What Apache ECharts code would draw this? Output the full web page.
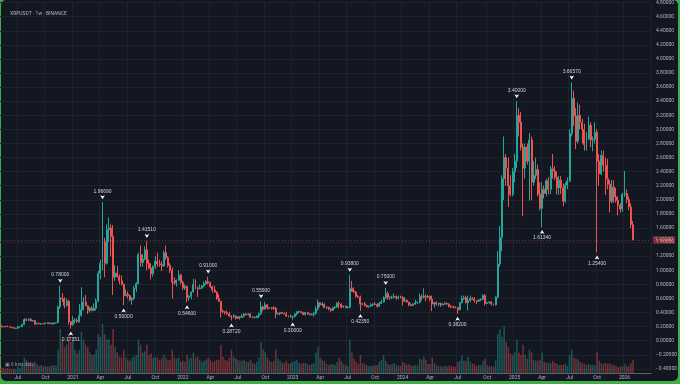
<!DOCTYPE html>
<html><head><meta charset="utf-8">
<script src="https://cdn.jsdelivr.net/npm/echarts@6/dist/echarts.min.js"></script>
<style>
html,body{margin:0;padding:0;width:680px;height:384px;overflow:hidden;background:#3fae49;}
#frame{position:absolute;left:1px;top:0;right:2px;bottom:3px;background:#131722;border-radius:5px;}
#chart{position:absolute;left:0;top:0;width:680px;height:384px;}
</style></head>
<body><div id="frame"></div><div id="chart"></div>
<script>
// ---- DATA: weekly candles [open, high, low, close] ----
const candles2020 = [
[.215,.216,.183,.197],[.197,.205,.193,.196],[.196,.206,.193,.203],[.203,.216,.197,.199],[.199,.205,.188,.192],
[.192,.195,.183,.183],[.183,.188,.172,.176],[.176,.180,.172,.178],[.178,.211,.173,.197],[.197,.208,.191,.198],
[.198,.240,.195,.232],[.232,.318,.223,.300],[.300,.318,.276,.291],[.291,.318,.280,.305],[.305,.318,.275,.281],
[.281,.295,.272,.285],[.285,.295,.226,.236],[.236,.250,.228,.247],[.247,.257,.239,.240],[.240,.249,.226,.242],
[.242,.247,.233,.241],[.241,.256,.238,.254],[.254,.258,.239,.243],[.243,.262,.238,.249],[.249,.256,.230,.238],
[.238,.259,.234,.252],[.252,.262,.246,.258],[.258,.500,.255,.480],[.480,.780,.450,.610],[.610,.677,.550,.600],
[.600,.620,.460,.500],[.500,.600,.485,.560],[.560,.580,.230,.270],[.270,.280,.17351,.225]
];
const candles2021 = [
[.225,.350,.215,.290],[.290,.320,.250,.290],[.290,.320,.250,.270],[.270,.520,.255,.360],[.360,.760,.340,.440],
[.440,.620,.430,.550],[.550,.650,.490,.495],[.495,.500,.380,.430],[.430,.480,.400,.460],[.460,.490,.420,.430],
[.430,.530,.420,.460],[.460,.600,.430,.565],[.565,.990,.550,.960],[.960,1.150,.870,1.100],[1.100,1.9669,1.000,1.400],
[1.400,1.460,.900,1.100],[1.100,1.650,1.080,1.580],[1.580,1.750,1.400,1.600],[1.600,1.650,1.200,1.480],[1.480,1.640,.650,.900],
[.900,1.070,.850,.960],[.960,1.060,.900,.910],[.910,.940,.800,.850],[.850,.930,.780,.800],[.800,.810,.500,.640],
[.640,.730,.630,.660],[.660,.700,.600,.640],[.640,.650,.560,.580],[.580,.620,.510,.600],[.600,.780,.580,.740],
[.740,.830,.690,.810],[.810,1.250,.800,1.220],[1.220,1.350,1.050,1.110],[1.110,1.230,1.050,1.160],[1.160,1.340,1.140,1.290],
[1.290,1.4151,1.000,1.100],[1.100,1.150,1.020,1.030],[1.030,1.100,.870,.950],[.950,1.070,.910,1.050],[1.050,1.200,1.020,1.130],
[1.130,1.250,1.050,1.090],[1.090,1.150,1.050,1.080],[1.080,1.130,.990,1.060],[1.060,1.280,1.050,1.250],[1.250,1.350,1.150,1.180],
[1.180,1.200,1.040,1.070],[1.070,1.100,.960,1.000],[1.000,1.040,.600,.830],[.830,.900,.790,.820],[.820,.870,.770,.860],
[.860,1.000,.850,.930],[.930,.950,.800,.830]
];
const candles2022 = [
[.830,.850,.720,.750],[.750,.800,.720,.770],[.770,.780,.546,.610],[.610,.650,.570,.630],[.630,.700,.590,.690],
[.690,.880,.690,.800],[.800,.870,.730,.750],[.750,.770,.620,.740],[.740,.800,.730,.750],[.750,.790,.730,.780],
[.780,.840,.760,.810],[.810,.860,.790,.840],[.840,.910,.800,.820],[.820,.840,.750,.770],[.770,.780,.680,.720],
[.720,.780,.680,.690],[.690,.700,.580,.600],[.600,.660,.550,.560],[.560,.560,.330,.420],[.420,.440,.390,.410],
[.410,.420,.370,.400],[.400,.430,.370,.380],[.380,.410,.340,.350],[.350,.360,.2872,.340],[.340,.380,.320,.350],
[.350,.360,.300,.320],[.320,.350,.310,.340],[.340,.350,.300,.330],[.330,.380,.330,.350],[.350,.390,.330,.380],
[.380,.390,.360,.370],[.370,.390,.360,.380],[.380,.390,.330,.330],[.330,.350,.320,.335],[.335,.340,.320,.330],
[.330,.360,.320,.350],[.350,.400,.320,.380],[.380,.559,.370,.480],[.480,.500,.420,.450],[.450,.550,.440,.510],
[.510,.520,.440,.470],[.470,.480,.450,.460],[.460,.480,.440,.465],[.465,.490,.440,.460],[.460,.480,.320,.380],
[.380,.400,.370,.385],[.385,.410,.360,.400],[.400,.410,.380,.390],[.390,.400,.380,.380],[.380,.410,.340,.350],
[.350,.360,.330,.350],[.350,.370,.330,.340]
];
const candles2023 = [
[.340,.350,.300,.345],[.345,.390,.330,.380],[.380,.420,.360,.410],[.410,.430,.390,.415],[.415,.420,.390,.400],
[.400,.410,.370,.370],[.370,.410,.360,.400],[.400,.410,.370,.380],[.380,.390,.360,.370],[.370,.390,.360,.375],
[.375,.410,.340,.390],[.390,.490,.370,.450],[.450,.580,.430,.540],[.540,.545,.480,.510],[.510,.550,.490,.520],
[.520,.530,.460,.470],[.470,.490,.450,.475],[.475,.480,.430,.450],[.450,.460,.410,.430],[.430,.480,.430,.470],
[.470,.490,.450,.480],[.480,.550,.470,.530],[.530,.560,.460,.520],[.520,.530,.460,.480],[.480,.500,.470,.490],
[.490,.500,.460,.470],[.470,.490,.460,.475],[.475,.938,.460,.740],[.740,.850,.700,.700],[.700,.760,.680,.690],
[.690,.710,.610,.630],[.630,.650,.610,.620],[.620,.640,.4235,.520],[.520,.540,.500,.525],[.525,.550,.490,.500],
[.500,.510,.470,.480],[.480,.500,.470,.490],[.490,.530,.490,.510],[.510,.530,.490,.520],[.520,.550,.510,.515],
[.515,.530,.470,.490],[.490,.550,.480,.530],[.530,.580,.520,.550],[.550,.630,.540,.610],[.610,.750,.600,.670],
[.670,.700,.580,.620],[.620,.630,.580,.615],[.615,.640,.590,.620],[.620,.670,.600,.630],[.630,.640,.580,.610],
[.610,.640,.590,.620],[.620,.640,.600,.615]
];
const candles2024 = [
[.615,.630,.500,.560],[.560,.620,.550,.570],[.570,.590,.540,.550],[.550,.550,.490,.510],[.510,.530,.490,.500],
[.500,.530,.490,.520],[.520,.580,.510,.540],[.540,.560,.520,.545],[.545,.670,.530,.630],[.630,.660,.570,.620],
[.620,.744,.600,.630],[.630,.660,.560,.620],[.620,.650,.600,.630],[.630,.640,.560,.590],[.590,.640,.420,.520],
[.520,.550,.470,.540],[.540,.560,.500,.520],[.520,.540,.490,.530],[.530,.540,.480,.510],[.510,.530,.500,.520],
[.520,.550,.510,.530],[.530,.540,.510,.520],[.520,.530,.470,.490],[.490,.500,.460,.480],[.480,.500,.460,.475],
[.475,.490,.460,.470],[.470,.480,.382,.440],[.440,.550,.430,.540],[.540,.640,.530,.600],[.600,.640,.580,.610],
[.610,.640,.530,.540],[.540,.640,.430,.570],[.570,.640,.550,.600],[.600,.620,.580,.590],[.590,.620,.540,.570],
[.570,.570,.520,.560],[.560,.590,.550,.580],[.580,.600,.560,.590],[.590,.660,.580,.640],[.640,.660,.500,.530],
[.530,.550,.520,.540],[.540,.560,.530,.550],[.550,.560,.500,.520],[.520,.530,.500,.510],[.510,.630,.500,.620],
[.620,1.270,.600,1.090],[1.090,1.630,1.050,1.470],[1.470,2.350,1.270,2.300],[2.300,2.900,2.000,2.600],[2.600,2.650,2.200,2.450],
[2.450,2.600,1.900,2.200],[2.200,2.350,2.050,2.080]
];
const candles2025 = [
[2.080,2.450,2.050,2.400],[2.400,2.650,2.250,2.550],[2.550,3.400,2.450,3.200],[3.200,3.300,2.900,3.100],[3.100,3.250,2.700,2.750],
[2.750,2.800,1.770,2.450],[2.450,2.800,2.300,2.750],[2.750,2.800,2.500,2.550],[2.550,2.950,1.990,2.850],[2.850,2.900,2.000,2.250],
[2.250,2.550,2.200,2.350],[2.350,2.600,2.300,2.430],[2.430,2.500,2.050,2.080],[2.080,2.250,1.850,1.880],[1.880,2.250,1.6134,2.150],
[2.150,2.200,2.020,2.090],[2.090,2.300,2.050,2.270],[2.270,2.320,2.080,2.150],[2.150,2.480,2.080,2.440],[2.440,2.650,2.300,2.410],
[2.410,2.480,2.280,2.320],[2.320,2.400,2.080,2.170],[2.170,2.340,2.070,2.280],[2.280,2.340,2.080,2.170],[2.170,2.230,1.910,1.980],
[1.980,2.250,1.960,2.210],[2.210,2.320,2.150,2.270],[2.270,3.000,2.250,2.940],[2.940,3.6657,2.900,3.440],[3.440,3.550,3.050,3.190],
[3.190,3.300,2.720,2.830],[2.830,3.380,2.800,3.200],[3.200,3.350,3.000,3.100],[3.100,3.150,2.800,3.000],[3.000,3.080,2.700,2.780],
[2.780,2.960,2.700,2.860],[2.860,3.180,2.850,3.060],[3.060,3.100,2.750,2.850],[2.850,2.900,2.690,2.860],[2.860,3.100,2.800,2.960],
[2.960,3.000,1.254,2.550],[2.550,2.650,2.200,2.370],[2.370,2.700,2.350,2.630],[2.630,2.700,2.400,2.490],[2.490,2.600,2.070,2.300],
[2.300,2.580,2.150,2.220],[2.220,2.280,1.820,1.980],[1.980,2.280,1.950,2.180],[2.180,2.280,1.960,2.040],[2.040,2.170,1.960,1.990],
[1.990,2.050,1.780,1.920],[1.920,1.950,1.820,1.870]
];
const candles2026 = [
[1.870,2.100,1.830,2.080],[2.080,2.410,2.040,2.090],[2.090,2.150,1.950,2.000],[2.000,2.050,1.850,1.900],[1.900,1.950,1.600,1.650],
[1.650,1.700,1.430,1.432]
];
// weekly volume (relative units)
const vol2020 = [1.2,1.0,0.9,1.0,0.9,0.8,0.9,0.8,1.2,1.0,1.6,3.0,2.6,2.2,2.0,1.6,2.2,1.8,1.4,1.6,1.3,1.4,1.3,1.4,1.5,1.6,1.5,4.5,8.5,6.5,5.0,5.5,7.5,6.0];
const vol2021 = [6.5,4.5,3.8,4.5,8.0,6.5,5.5,5.0,4.0,3.5,3.6,4.5,7.5,7.0,9.5,7.5,6.5,6.5,5.5,8.5,5.0,4.0,3.2,3.0,4.5,3.0,2.6,2.4,3.0,3.2,3.5,6.5,5.5,4.0,4.2,5.5,3.5,3.8,3.0,3.2,3.0,2.5,2.8,3.5,3.0,2.5,2.6,4.5,3.0,2.8,3.0,2.2];
const vol2022 = [2.4,2.2,3.5,2.8,3.0,4.0,3.0,3.2,2.6,2.2,2.4,2.6,3.0,2.6,2.2,2.4,2.6,2.6,5.5,3.2,2.6,2.4,3.0,4.5,3.2,2.8,2.6,2.4,2.4,2.6,2.2,2.2,2.6,2.0,1.8,2.2,3.0,6.0,4.5,4.0,3.0,2.4,2.2,2.4,4.5,2.8,2.4,2.0,2.0,2.4,1.8,2.0];
const vol2023 = [2.2,2.4,2.6,2.0,1.8,2.0,2.0,1.8,1.6,1.8,2.0,4.0,5.0,3.0,2.6,2.4,1.8,1.6,1.8,1.8,1.6,2.2,3.0,2.4,1.8,1.6,1.4,6.5,4.0,2.8,2.2,1.8,3.5,2.0,1.8,1.6,1.4,1.4,1.5,1.5,1.6,2.2,2.6,3.5,2.4,1.8,1.6,1.8,2.0,1.6,1.5,1.4];
const vol2024 = [2.2,2.0,1.6,1.8,1.5,1.4,1.6,1.6,2.8,2.6,3.2,2.6,1.8,1.8,3.0,2.0,1.6,1.4,1.4,1.3,1.4,1.3,1.5,1.4,1.3,1.3,2.2,2.4,3.4,2.4,2.4,3.2,2.2,1.8,1.8,1.4,1.6,1.6,2.4,2.8,1.6,1.4,1.4,1.3,2.5,7.5,8.5,7.0,9.0,6.0,5.0,3.8];
const vol2025 = [3.5,4.0,6.5,4.0,3.5,5.5,3.5,2.8,4.5,4.0,2.6,2.4,2.4,2.6,4.0,2.2,2.0,2.0,2.0,2.4,2.0,1.8,1.6,1.6,1.6,1.8,1.4,3.5,4.5,3.0,2.8,2.6,2.2,2.0,1.8,1.6,1.8,1.6,1.6,1.6,4.0,2.4,2.0,1.8,2.0,1.8,2.0,1.6,1.6,1.4,1.2,1.3];
const vol2026 = [1.4,1.8,1.4,1.4,2.0,2.6];
// labelled extremes: [week, which]
const markers = [
 ['2020-11-23','high'],['2020-12-28','low'],['2021-04-12','high'],['2021-06-21','low'],['2021-09-06','high'],
 ['2022-01-17','low'],['2022-03-28','high'],['2022-06-13','low'],['2022-09-19','high'],['2023-01-02','low'],
 ['2023-07-10','high'],['2023-08-14','low'],['2023-11-06','high'],['2024-07-01','low'],['2025-01-13','high'],
 ['2025-04-07','low'],['2025-07-14','high'],['2025-10-06','low']
];
const yTicks = {min:-0.4, max:4.8, step:0.2};
const title = 'XRPUSDT · 1w · BINANCE';

// ---- build ----
const candles = [].concat(candles2020,candles2021,candles2022,candles2023,candles2024,candles2025,candles2026);
const volumes = [].concat(vol2020,vol2021,vol2022,vol2023,vol2024,vol2025,vol2026);
const blankWeeks = 8;
const weeks = [];
const start = Date.UTC(2020,4,11);
for (let i=0;i<candles.length+blankWeeks;i++) weeks.push(new Date(start+i*7*864e5).toISOString().slice(0,10));
const UP='#26a69a', DOWN='#ef5350';
const kData = candles.map(c=>[c[0],c[3],c[2],c[1]]);
const vData = volumes.map((v,i)=>({value:v,itemStyle:{color:candles[i][3]>=candles[i][0]?'rgba(38,166,154,0.45)':'rgba(239,83,80,0.45)'}}));
const MON=['Jan','Feb','Mar','Apr','May','Jun','Jul','Aug','Sep','Oct','Nov','Dec'];
function isQuarterStart(idx){const d=new Date(weeks[idx]+'T00:00:00Z');return d.getUTCDate()<=7 && d.getUTCMonth()%3===0;}
const lastClose = candles[candles.length-1][3];
const mp = markers.map(([w,kind])=>{
  const i = weeks.indexOf(w); const v = kind==='high'?candles[i][1]:candles[i][2];
  return {coord:[w,v], value:v, symbol:'arrow', symbolSize:[3.5,4], symbolRotate: kind==='high'?180:0,
    symbolOffset:[0, kind==='high'?-3:3],
    label:{show:true, position: kind==='high'?'top':'bottom', distance:1.5, formatter: v.toFixed(5), color:'#d1d4dc', fontSize:5}};
});
const chart = echarts.init(document.getElementById('chart'), null, {renderer:'canvas'});
chart.setOption({
  backgroundColor:'transparent',
  animation:false,
  title:{text:title,left:5,top:6,textStyle:{color:'#b2b5be',fontSize:5,fontWeight:'normal',fontFamily:'Roboto'}},
  graphic:[{type:'text',left:5,top:362,style:{text:'▣ 0 bars data',fill:'#9598a1',fontSize:4.5,fontFamily:'Roboto'}}],
  grid:[{left:0,right:29,top:2.6,bottom:15.1},{left:0,right:29,top:290,bottom:10.7}],
  xAxis:[{type:'category',data:weeks,gridIndex:0,boundaryGap:true,offset:4.4,
    axisLine:{show:true,onZero:false,lineStyle:{color:'#5d606b',width:1}},axisTick:{show:false},
    axisLabel:{interval:(i)=>isQuarterStart(i),margin:2,color:'#b2b5be',fontSize:5,fontFamily:'Roboto',
      formatter:(v)=>{const d=new Date(v+'T00:00:00Z');const m=d.getUTCMonth();return m===0?String(d.getUTCFullYear()):MON[m];}},
    splitLine:{show:true,interval:(i)=>isQuarterStart(i),lineStyle:{color:'#1e222d',width:1}}},
   {type:'category',data:weeks,gridIndex:1,boundaryGap:true,show:false,axisLine:{show:false,onZero:false}}],
  yAxis:[{type:'value',gridIndex:0,position:'right',min:yTicks.min,max:yTicks.max,interval:yTicks.step,
    axisLine:{show:false},axisTick:{show:false},
    axisLabel:{color:'#b2b5be',fontSize:5,fontFamily:'Roboto',margin:5,
      formatter:(v)=>(v<0?'\u2212':'')+Math.abs(v).toFixed(5)},
    splitLine:{show:true,lineStyle:{color:'#1e222d',width:1}}},
   {type:'value',gridIndex:1,min:0,max:16,show:false,splitLine:{show:false}}],
  series:[
   {type:'bar',xAxisIndex:1,yAxisIndex:1,data:vData,barWidth:'70%',z:1},
   {type:'candlestick',xAxisIndex:0,yAxisIndex:0,data:kData,barWidth:'70%',z:3,
    itemStyle:{color:UP,color0:DOWN,borderColor:UP,borderColor0:DOWN,borderWidth:1},
    markPoint:{data:mp,itemStyle:{color:'#ffffff'},silent:true},
    markLine:{symbol:'none',silent:true,data:[{yAxis:lastClose}],
      lineStyle:{color:'#ef5350',type:[1,2],width:1,opacity:0.45},
      label:{show:true,position:'end',distance:2,formatter:lastClose.toFixed(5),color:'#ffffff',
        backgroundColor:'#ef5350',fontSize:5,padding:[1.5,2,1,2],borderRadius:1,fontFamily:'Roboto'}}}
  ]
});
</script></body></html>
